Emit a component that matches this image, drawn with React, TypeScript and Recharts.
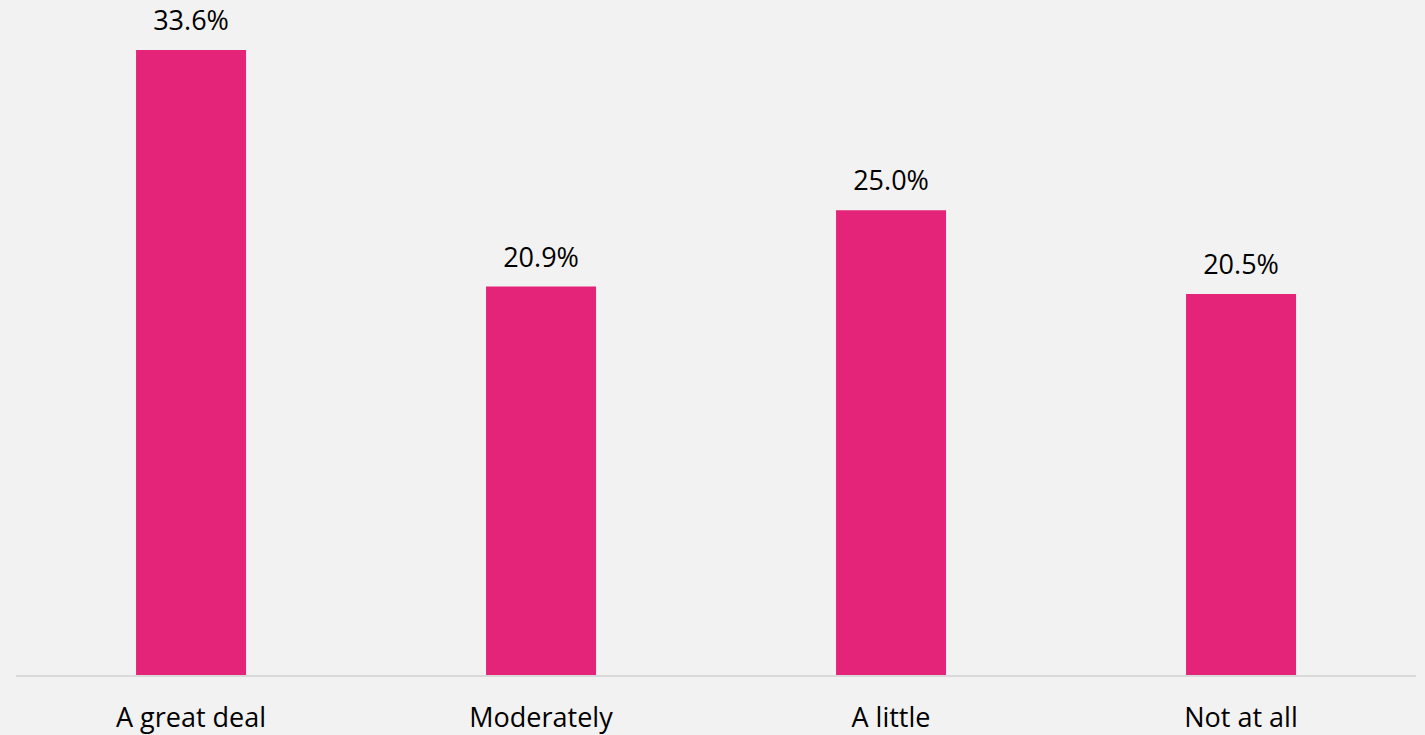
import React from "react";
import { BarChart, Bar, XAxis, YAxis, LabelList } from "recharts";

const categories = ["A great deal", "Moderately", "A little", "Not at all"];
const values = [33.6, 20.9, 25.0, 20.5];

const data = categories.map((c, i) => ({ name: c, value: values[i] }));

const FONT = "'Open Sans', sans-serif";

export default function App() {
  return (
    <div style={{ position: "absolute", left: 0, top: 0, width: 1425, height: 735, background: "#F2F2F2" }}>
      <BarChart
        width={1425}
        height={735}
        data={data}
        margin={{ top: 50, right: 9, bottom: 0, left: 16 }}
        barCategoryGap="34.3%"
      >
        <XAxis
          dataKey="name"
          height={59}
          axisLine={{ stroke: "#D9D9D9", strokeWidth: 2 }}
          tickLine={false}
          tickMargin={26}
          tick={{ fill: "#000", fontSize: 27, fontFamily: FONT }}
          interval={0}
        />
        <YAxis hide domain={[0, 33.6]} />
        <Bar dataKey="value" fill="#E32479" isAnimationActive={false}>
          <LabelList
            dataKey="value"
            position="top"
            offset={20}
            formatter={(v: number) => `${v.toFixed(1)}%`}
            style={{ fill: "#000", fontSize: 27, fontFamily: FONT }}
          />
        </Bar>
      </BarChart>
    </div>
  );
}
